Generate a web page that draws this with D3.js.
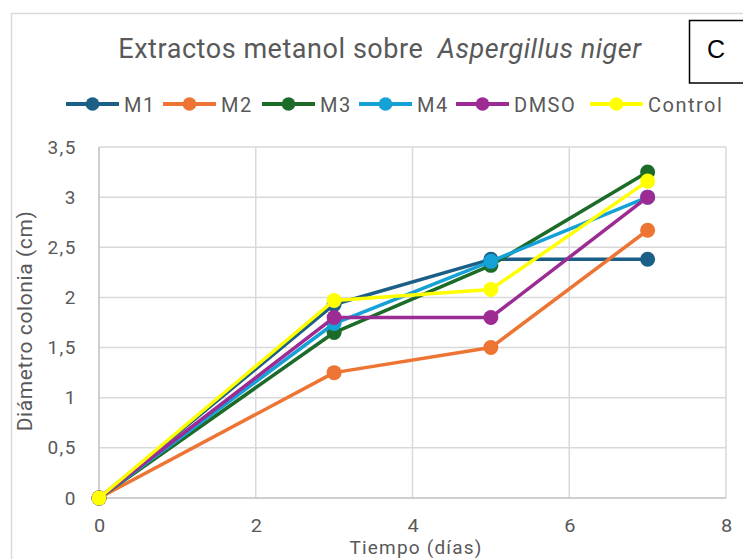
<!DOCTYPE html>
<html><head><meta charset="utf-8">
<script src="https://cdn.jsdelivr.net/npm/d3@7"></script>
<style>body{margin:0;background:#fff}svg{display:block}</style>
</head><body>
<script>
const days = [0, 3, 5, 7];
const seriesNames = ["M1", "M2", "M3", "M4", "DMSO", "Control"];
const M1 = [0, 1.93, 2.38, 2.38];
const M2 = [0, 1.25, 1.50, 2.67];
const M3 = [0, 1.65, 2.32, 3.25];
const M4 = [0, 1.74, 2.36, 3.00];
const DMSO = [0, 1.80, 1.80, 3.00];
const Control = [0, 1.97, 2.08, 3.16];
const colors = ["#1b5f86", "#ed7433", "#1c6b28", "#15a0d6", "#9c2b94", "#ffff00"];
const xTicks = [0, 2, 4, 6, 8];
const yTicks = [0, 0.5, 1, 1.5, 2, 2.5, 3, 3.5];
const title = "Extractos metanol sobre ";
const titleItalic = "Aspergillus niger";
const xTitle = "Tiempo (días)";
const yTitle = "Diámetro colonia (cm)";
const panelLabel = "C";

const allSeries = [M1, M2, M3, M4, DMSO, Control];
const W = 743, H = 559;
const font = "Roboto, 'Open Sans', sans-serif";
const grey = "#595959";
const svg = d3.select("body").append("svg").attr("width", W).attr("height", H);

svg.append("rect").attr("x", 11.5).attr("y", 13.5).attr("width", 900).attr("height", 900)
  .attr("fill", "#fff").attr("stroke", "#d9d9d9").attr("stroke-width", 1.5);

const x = d3.scaleLinear().domain([0, 8]).range([99, 726]);
const y = d3.scaleLinear().domain([0, 3.5]).range([498, 147]);

const g = svg.append("g");
g.selectAll(".vg").data(xTicks.filter(d => d > 0)).join("line")
  .attr("x1", d => x(d)).attr("x2", d => x(d)).attr("y1", y(0)).attr("y2", y(3.5))
  .attr("stroke", "#d9d9d9").attr("stroke-width", 1.5);
g.selectAll(".hg").data(yTicks.filter(d => d > 0)).join("line")
  .attr("x1", x(0)).attr("x2", x(8)).attr("y1", d => y(d)).attr("y2", d => y(d))
  .attr("stroke", "#d9d9d9").attr("stroke-width", 1.5);
g.append("line").attr("x1", x(0)).attr("x2", x(0)).attr("y1", y(0)).attr("y2", y(3.5))
  .attr("stroke", "#bfbfbf").attr("stroke-width", 1.5);
g.append("line").attr("x1", x(0)).attr("x2", x(8)).attr("y1", y(0)).attr("y2", y(0))
  .attr("stroke", "#bfbfbf").attr("stroke-width", 1.5);

const fmt = d => String(d).replace(".", ",");
const yAxis = svg.append("g").attr("transform", `translate(${x(0)},0)`)
  .call(d3.axisLeft(y).tickValues(yTicks).tickFormat(fmt).tickSize(0).tickPadding(22));
const xAxis = svg.append("g").attr("transform", `translate(0,${y(0)})`)
  .call(d3.axisBottom(x).tickValues(xTicks).tickFormat(fmt).tickSize(0).tickPadding(21));
yAxis.select(".domain").remove();
xAxis.select(".domain").remove();
yAxis.selectAll("text").attr("fill", grey).style("font-family", font).style("font-size", "19px")
  .style("letter-spacing", "1.5px");
xAxis.selectAll("text").attr("fill", grey).style("font-family", font).style("font-size", "19px")
  .attr("transform", "scale(1.05,1)");

svg.append("text").attr("x", 416).attr("y", 554).attr("text-anchor", "middle")
  .attr("fill", grey).style("font-family", font).style("font-size", "19px")
  .style("letter-spacing", "1.2px").text(xTitle);
svg.append("text").attr("transform", `translate(32,321) rotate(-90)`).attr("text-anchor", "middle")
  .attr("fill", grey).style("font-family", font).style("font-size", "21px")
  .style("letter-spacing", "0.6px").text(yTitle);

const t = svg.append("text").attr("x", 380).attr("y", 58).attr("text-anchor", "middle")
  .attr("fill", grey).style("font-family", font).style("font-size", "27px")
  .style("letter-spacing", "0.55px");
t.append("tspan").text(title + "\u00a0");
t.append("tspan").style("font-style", "italic").text(titleItalic);

svg.append("rect").attr("x", 689.5).attr("y", 20.5).attr("width", 80).attr("height", 62.5)
  .attr("fill", "#fff").attr("stroke", "#000").attr("stroke-width", 1.5);
svg.append("text").attr("x", 707).attr("y", 57.5).attr("fill", "#000")
  .style("font-family", "'Liberation Sans', Arial, sans-serif").style("font-size", "25px")
  .text(panelLabel);

const line = d3.line().x((d, i) => x(days[i])).y(d => y(d));
allSeries.forEach((s, k) => {
  const sg = svg.append("g");
  sg.append("path").datum(s).attr("d", line).attr("fill", "none")
    .attr("stroke", colors[k]).attr("stroke-width", 3.5).attr("stroke-linejoin", "round");
  sg.selectAll("circle").data(s).join("circle")
    .attr("cx", (d, i) => x(days[i])).attr("cy", d => y(d)).attr("r", 7.5)
    .attr("fill", colors[k]);
});

const legX = [66, 163, 262, 359, 456, 590];
const lg = svg.append("g");
seriesNames.forEach((n, k) => {
  const gx = legX[k];
  lg.append("line").attr("x1", gx).attr("x2", gx + 53).attr("y1", 104).attr("y2", 104)
    .attr("stroke", colors[k]).attr("stroke-width", 4);
  lg.append("circle").attr("cx", gx + 26.5).attr("cy", 104).attr("r", 6.8).attr("fill", colors[k]);
  lg.append("text").attr("x", gx + 58).attr("y", 111.5).attr("fill", grey)
    .style("font-family", font).style("font-size", "20px").style("letter-spacing", "1.5px").text(n);
});
</script>
</body></html>
